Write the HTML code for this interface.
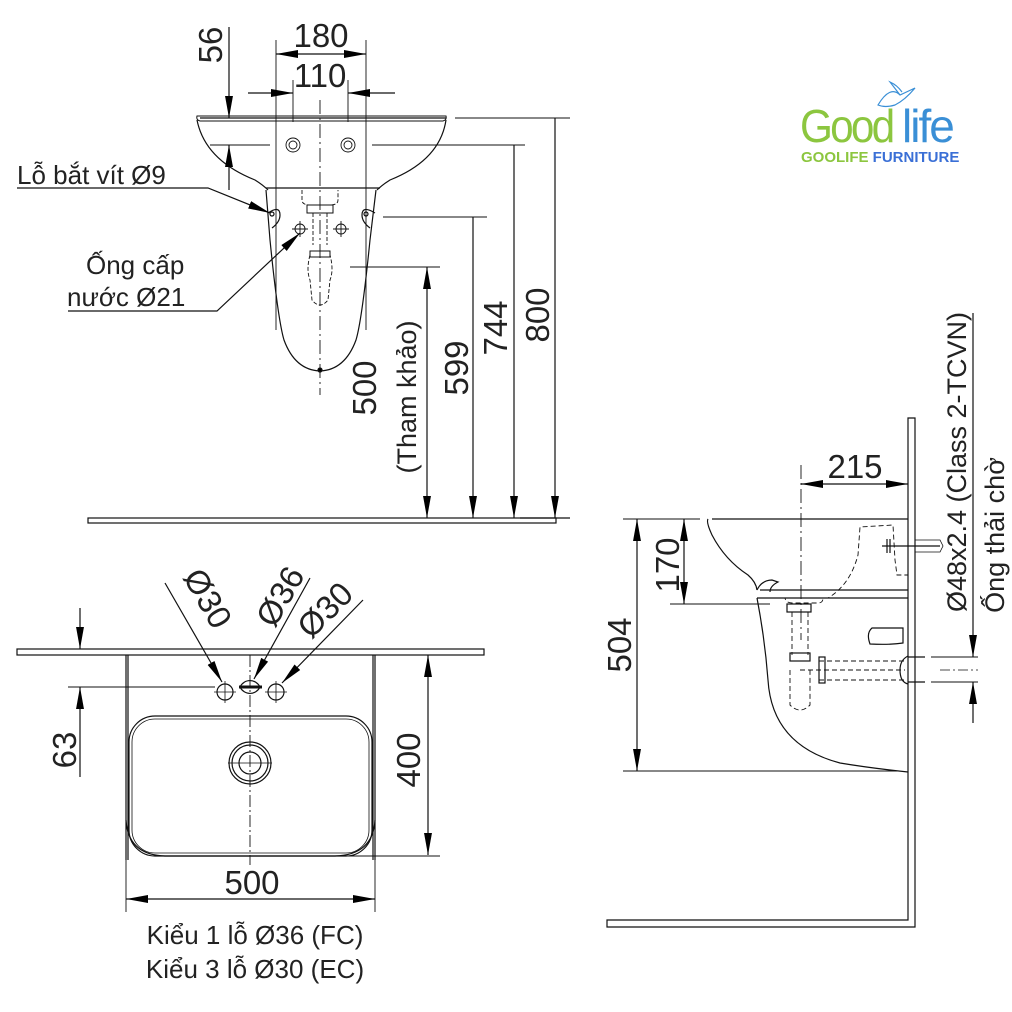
<!DOCTYPE html>
<html><head><meta charset="utf-8"><style>
html,body{margin:0;padding:0;background:#fff;}
svg{display:block;font-family:"Liberation Sans","DejaVu Sans",sans-serif;}
</style></head><body>
<svg width="1012" height="1012" viewBox="0 0 1012 1012" xmlns="http://www.w3.org/2000/svg">
<defs>
<marker id="b" viewBox="0 0 10 10" refX="10" refY="5" markerWidth="22" markerHeight="22" markerUnits="userSpaceOnUse" orient="auto-start-reverse"><path d="M0,3.2L10,5L0,6.8z" fill="#000"/></marker>
</defs>
<g fill="none" stroke="#111" stroke-width="1.2">
<line x1="320" y1="100" x2="320" y2="395" stroke-dasharray="14,4,2,4" stroke-width="0.9"/>
<path d="M200,118 L446,118 M197,120 Q205,160 255,180 Q263,185 268,190 M446,120 Q440,160 390,180 Q382,185 377,190"/>
<path d="M197,116 Q196,120 200,121 L443,121 Q447,120 446,116 Z" stroke-width="1"/>
<path d="M266,188 L380,188"/>
<path d="M266,190 L270,240 Q278,320 284,340 Q295,370 320,371 Q345,370 356,340 Q362,320 370,240 L376,190" />
<circle cx="320" cy="370" r="2" fill="#000"/>
<path d="M268,213 Q280,205 280,215 Q280,222 272,228 M375,213 Q362,205 362,215 Q362,222 370,228"/>
<circle cx="272" cy="214" r="2"/><circle cx="366" cy="214" r="2"/>
<g stroke-width="0.9"><circle cx="293" cy="145" r="7"/><circle cx="293" cy="145" r="4"/><circle cx="348" cy="145" r="7"/><circle cx="348" cy="145" r="4"/>
<circle cx="300" cy="229" r="5"/><path d="M292,229h16M300,221v16"/><circle cx="341" cy="229" r="5"/><path d="M333,229h16M341,221v16"/></g>
<g stroke-dasharray="4,2" stroke-width="0.9"><path d="M302,190 L302,200 Q302,205 310,205 L330,205 Q338,205 338,200 L338,190"/>
<path d="M313,213 L313,245 M327,213 L327,245 M310,255 Q306,270 310,280 L312,300 Q320,310 328,300 L330,280 Q334,270 330,255"/></g>
<rect x="307" y="205" width="26" height="8" stroke-width="1"/><rect x="310" y="251" width="20" height="6" stroke-width="1"/>
<path d="M276,40 V330 M366,40 V330" stroke-width="0.9"/>
<line x1="276" y1="54" x2="366" y2="54" marker-start="url(#b)" marker-end="url(#b)"/>
<path d="M293,80 V122 M348,80 V122" stroke-width="0.9"/>
<line x1="248" y1="93" x2="293" y2="93" marker-end="url(#b)"/>
<line x1="395" y1="93" x2="348" y2="93" marker-end="url(#b)"/>
<line x1="229" y1="27" x2="229" y2="118" marker-end="url(#b)"/>
<line x1="229" y1="190" x2="229" y2="145" marker-end="url(#b)"/>
<path d="M210,145 H270 M372,145 H525 M455,118 H570 M383,217 H487 M350,267 H440" stroke-width="0.9"/>
<line x1="555" y1="118" x2="555" y2="518" marker-end="url(#b)"/>
<line x1="514" y1="145" x2="514" y2="518" marker-end="url(#b)"/>
<line x1="473" y1="217" x2="473" y2="518" marker-end="url(#b)"/>
<line x1="427" y1="267" x2="427" y2="518" marker-start="url(#b)" marker-end="url(#b)"/>
<rect x="88" y="518" width="468" height="5"/>
<line x1="520" y1="518" x2="570" y2="518"/>
<polyline points="17,188 208,188 270,213" marker-end="url(#b)"/>
<polyline points="68,311 217,311 300,233" marker-end="url(#b)"/>

<rect x="17" y="649" width="467" height="6"/>
<path d="M126,655 V860 M128,655 V860 M373,655 V860 M375,655 V860"/>
<path d="M126,860 V912 M375,860 V912" stroke-width="0.9"/>
<path d="M126,820 Q128,855 165,856 L335,856 Q373,855 375,820"/>
<rect x="129" y="716" width="243" height="140" rx="26"/>
<rect x="132" y="719" width="237" height="134" rx="23" stroke-width="0.8"/>
<circle cx="250" cy="763" r="21"/><circle cx="250" cy="763" r="18"/><circle cx="250" cy="763" r="11"/>
<line x1="228" y1="763" x2="272" y2="763" stroke-width="0.8"/>
<line x1="250" y1="655" x2="250" y2="865" stroke-dasharray="12,3,2,3" stroke-width="0.9"/>
<circle cx="225" cy="692" r="8"/><path d="M214,692h22M225,681v22" stroke-width="0.8"/>
<circle cx="276" cy="692" r="8"/><path d="M265,692h22M276,681v22" stroke-width="0.8"/>
<path d="M240,687 A11,11 0 0 0 260,687 M240,687 A11,11 0 0 1 260,687"/>
<line x1="239" y1="687" x2="262" y2="687" stroke-width="3"/>
<line x1="165" y1="583" x2="222" y2="682" marker-end="url(#b)"/>
<line x1="310" y1="578" x2="254" y2="679" marker-end="url(#b)"/>
<line x1="363" y1="600" x2="282" y2="683" marker-end="url(#b)"/>
<line x1="80" y1="608" x2="80" y2="649" marker-end="url(#b)"/>
<line x1="80" y1="777" x2="80" y2="687" marker-end="url(#b)"/>
<line x1="68" y1="687" x2="215" y2="687" stroke-width="0.9"/>
<line x1="428" y1="655" x2="428" y2="855" marker-start="url(#b)" marker-end="url(#b)"/>
<line x1="376" y1="655" x2="440" y2="655" stroke-width="0.9"/>
<line x1="250" y1="856" x2="440" y2="856" stroke-width="0.9"/>
<line x1="126" y1="899" x2="375" y2="899" marker-start="url(#b)" marker-end="url(#b)"/>

<path d="M908,418 H915 V927 H607 V920 H908 Z"/>
<path d="M712,519 H908 M708,519 Q706,522 712,535 Q725,560 748,575 Q756,582 757,590 M760,590 H908 M757,598 H908"/>
<path d="M757,590 Q762,580 772,580 L778,582 Q770,586 770,592"/>
<path d="M757,598 Q765,640 768,680 Q772,745 840,763 Q870,768 908,772"/>
<path d="M870,644 Q866,633 872,628 L903,628 L903,643 Q890,645 870,644 Z"/>
<g stroke-dasharray="5,3" stroke-width="0.9">
<path d="M782,598 L785,598 Q786,603 792,603 L818,603 Q823,603 823,598 L828,598 Q850,585 858,555 L860,527 L893,525 L895,560 L897,575 L908,575"/>
<path d="M792,612 V655 M808,612 V655 M790,670 V705 Q800,715 810,705 V670"/>
<path d="M819,661 H905 M819,680 H905 M800,670 H905"/>
</g>
<rect x="787" y="604" width="24" height="8"/>
<rect x="790" y="653" width="20" height="8"/>
<rect x="819" y="657" width="6" height="26"/>
<path d="M908,656 Q900,660 900,670 Q900,682 908,684 M908,657 H925 M908,682 H925"/>
<line x1="940" y1="670" x2="978" y2="670" stroke-dasharray="10,3,2,3" stroke-width="0.8"/>
<path d="M931,657 H978 M931,682 H978" stroke-width="0.9"/>
<path d="M882,546 H940 M887,539 V553 M890,539 V553" />
<path d="M915,540 L940,540 L943,546 L940,552 L915,552" stroke-width="0.8"/>
<line x1="801" y1="465" x2="801" y2="640" stroke-dasharray="14,4,2,4" stroke-width="0.9"/>
<line x1="801" y1="484" x2="908" y2="484" marker-start="url(#b)" marker-end="url(#b)"/>
<line x1="623" y1="519" x2="700" y2="519" stroke-width="0.9"/>
<line x1="623" y1="771" x2="900" y2="771" stroke-width="0.9"/>
<line x1="670" y1="604" x2="770" y2="604" stroke-width="0.9"/>
<line x1="637" y1="519" x2="637" y2="771" marker-start="url(#b)" marker-end="url(#b)"/>
<line x1="684" y1="519" x2="684" y2="604" marker-start="url(#b)" marker-end="url(#b)"/>
<line x1="973" y1="313" x2="973" y2="657" marker-end="url(#b)"/>
<line x1="973" y1="723" x2="973" y2="682" marker-end="url(#b)"/>
</g>

<g fill="#222" font-size="33">
<text x="321" y="47" text-anchor="middle">180</text>
<text x="320" y="87" text-anchor="middle">110</text>
<text transform="translate(222,45) rotate(-90)" text-anchor="middle">56</text>
<text transform="translate(549,315) rotate(-90)" text-anchor="middle">800</text>
<text transform="translate(507,328) rotate(-90)" text-anchor="middle">744</text>
<text transform="translate(468,368) rotate(-90)" text-anchor="middle">599</text>
<text transform="translate(376,388) rotate(-90)" text-anchor="middle">500</text>
<text transform="translate(416,397) rotate(-90)" text-anchor="middle" font-size="27">(Tham khảo)</text>
<text transform="translate(76,750) rotate(-90)" text-anchor="middle">63</text>
<text transform="translate(420,760) rotate(-90)" text-anchor="middle">400</text>
<text x="252" y="894" text-anchor="middle">500</text>
<text transform="translate(631,645) rotate(-90)" text-anchor="middle">504</text>
<text transform="translate(679,565) rotate(-90)" text-anchor="middle">170</text>
<text x="855" y="478" text-anchor="middle">215</text>
<text transform="translate(198,604) rotate(60)" text-anchor="middle">Ø30</text>
<text transform="translate(290,602) rotate(-60)" text-anchor="middle">Ø36</text>
<text transform="translate(333,618) rotate(-45)" text-anchor="middle">Ø30</text>
</g>
<g fill="#222" font-size="26">
<text x="17" y="184">Lỗ bắt vít Ø9</text>
<text x="86" y="274">Ống cấp</text>
<text x="67" y="306">nước Ø21</text>
<text x="255" y="944" text-anchor="middle">Kiểu 1 lỗ Ø36 (FC)</text>
<text x="255" y="978" text-anchor="middle">Kiểu 3 lỗ Ø30 (EC)</text>
<text transform="translate(966,462) rotate(-90)" text-anchor="middle" font-size="27">Ø48x2.4 (Class 2-TCVN)</text>
<text transform="translate(1004,535) rotate(-90)" text-anchor="middle" font-size="27">Ống thải chờ</text>
</g>
<text x="800" y="142" font-size="46" fill="#8cc63f" letter-spacing="-3" transform="translate(800,0) scale(0.92,1) translate(-800,0)">Good</text>
<text x="902" y="142" font-size="46" fill="#3a8fd6" letter-spacing="-2">life</text>
<path d="M878,105 Q890,85 900,95 L915,88 Q905,100 895,105 Q885,108 878,105 Z M900,95 L890,82 Q897,85 902,92" fill="none" stroke="#3a8fd6" stroke-width="1.2"/>
<text x="801" y="162" font-size="15" font-weight="bold" fill="#8cc63f">GOOLIFE <tspan fill="#3a6fd6">FURNITURE</tspan></text>
</svg>
</body></html>
